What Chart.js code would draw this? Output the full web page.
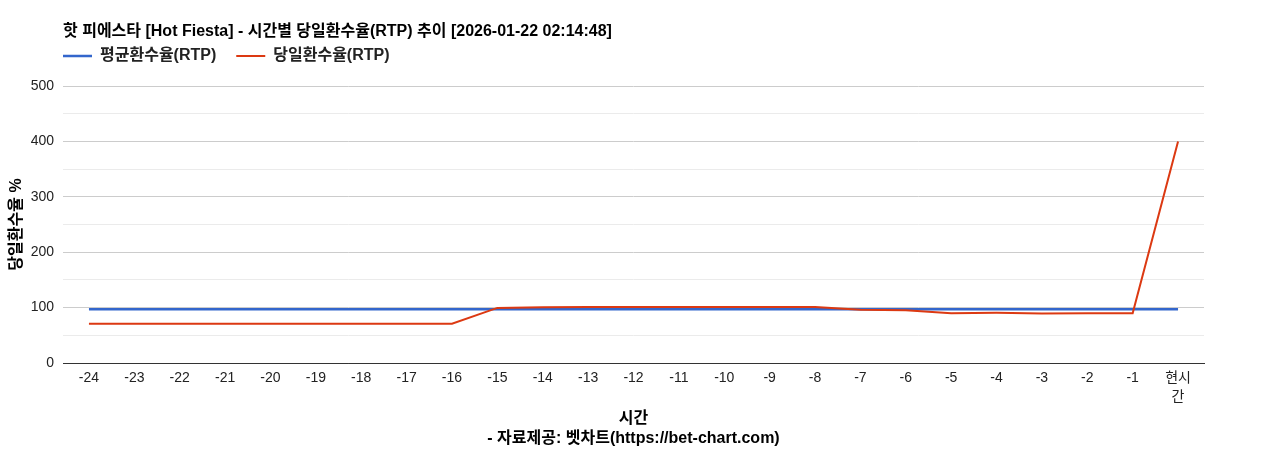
<!DOCTYPE html>
<html>
<head>
<meta charset="utf-8">
<script src="https://cdn.jsdelivr.net/npm/chart.js@4"></script>
<style>
html,body{margin:0;padding:0;background:#fff;}
#wrap{width:1268px;height:450px;position:relative;}
</style>
</head>
<body>
<div id="wrap"><canvas id="c"></canvas></div>
<script>
const categories = ['-24','-23','-22','-21','-20','-19','-18','-17','-16','-15','-14','-13','-12','-11','-10','-9','-8','-7','-6','-5','-4','-3','-2','-1',['현시','간']];
const avgRTP = [97,97,97,97,97,97,97,97,97,97,97,97,97,97,97,97,97,97,97,97,97,97,97,97,97];
const dayRTP = [71,71,71,71,71,71,71,71,71,99.5,100.5,101,101,101,101,101,101,96,95,90,90.5,89.5,90,90,400];
const yTicks = [0,100,200,300,400,500];

const FONT = "Arial, 'Liberation Sans', 'Noto Sans CJK KR', sans-serif";
Chart.defaults.font.family = FONT;
Chart.defaults.color = '#222';

const LEGEND_PAD = 20;
const LEGEND_CENTER_Y = 56;
const X_EDGE = 0.572; // category edge offset as a fraction of one step
const Y_AXIS_WIDTH = 56;
const X_AXIS_HEIGHT = 86;

const legendPlacer = {
  id: 'legendPlacer',
  afterLayout(chart) {
    const lg = chart.legend;
    if (!lg) return;
    const fs = 16;
    const dx = chart.chartArea.left - LEGEND_PAD - lg.left;
    lg.left += dx; lg.right += dx;
    const newTop = LEGEND_CENTER_Y - fs / 2 - LEGEND_PAD;
    const dy = newTop - lg.top;
    lg.top += dy; lg.bottom += dy;
  }
};

new Chart(document.getElementById('c'), {
  type: 'line',
  data: {
    labels: categories,
    datasets: [
      {label:'평균환수율(RTP)', data: avgRTP, borderColor:'#3366cc', backgroundColor:'#3366cc', borderWidth:2.5, pointRadius:0, tension:0, order:1},
      {label:'당일환수율(RTP)', data: dayRTP, borderColor:'#dc3912', backgroundColor:'#dc3912', borderWidth:2, pointRadius:0, tension:0, order:0}
    ]
  },
  plugins: [legendPlacer],
  options: {
    responsive: true,
    maintainAspectRatio: false,
    animation: false,
    layout: {padding: {left: 7, right: 64, top: 23, bottom: 1}},
    plugins: {
      title: {
        display: true, fullSize: false, align: 'start',
        text: '핫 피에스타 [Hot Fiesta] - 시간별 당일환수율(RTP) 추이 [2026-01-22 02:14:48]',
        color: '#000', font: {size: 16, weight: 'bold', lineHeight: 1.0625}, padding: {top: 0, bottom: 0}
      },
      legend: {
        display: true, fullSize: false, align: 'start',
        labels: {boxWidth: 29, boxHeight: 0, padding: LEGEND_PAD, color: '#222', font: {size: 16, weight: 'bold'},
          sort: (a,b) => a.datasetIndex - b.datasetIndex}
      },
      tooltip: {enabled: false}
    },
    scales: {
      x: {
        offset: true,
        afterBuildTicks: s => { s._startValue = -X_EDGE; s._valueRange = (categories.length - 1) + 2 * X_EDGE; },
        afterFit: s => { s.height = X_AXIS_HEIGHT; },
        grid: {display: false, drawTicks: false},
        border: {display: true, color: '#333'},
        ticks: {color: '#222', font: {size: 14, lineHeight: 1.35}, maxRotation: 0, autoSkip: false, padding: 6},
        title: {display: true, text: ['시간', '- 자료제공: 벳차트(https://bet-chart.com)'], color: '#000', font: {size: 16, weight: 'bold', lineHeight: 1.28}, padding: {top: 0, bottom: 0}}
      },
      y: {
        min: 0, max: 500,
        afterFit: s => { s.width = Y_AXIS_WIDTH; },
        border: {display: false},
        grid: {
          color: ctx => ctx.tick && ctx.tick.value === 0 ? '#333' : (ctx.tick && yTicks.includes(ctx.tick.value) ? '#cccccc' : '#ebebeb'),
          drawTicks: false
        },
        ticks: {stepSize: 50, color: '#222', font: {size: 14}, padding: 9,
          callback: v => yTicks.includes(v) ? String(v) : ''},
        title: {display: true, text: '당일환수율 %', color: '#000', font: {size: 16, weight: 'bold', lineHeight: 1.2}, padding: {top: 0, bottom: 5}}
      }
    }
  }
});
</script>
</body>
</html>
